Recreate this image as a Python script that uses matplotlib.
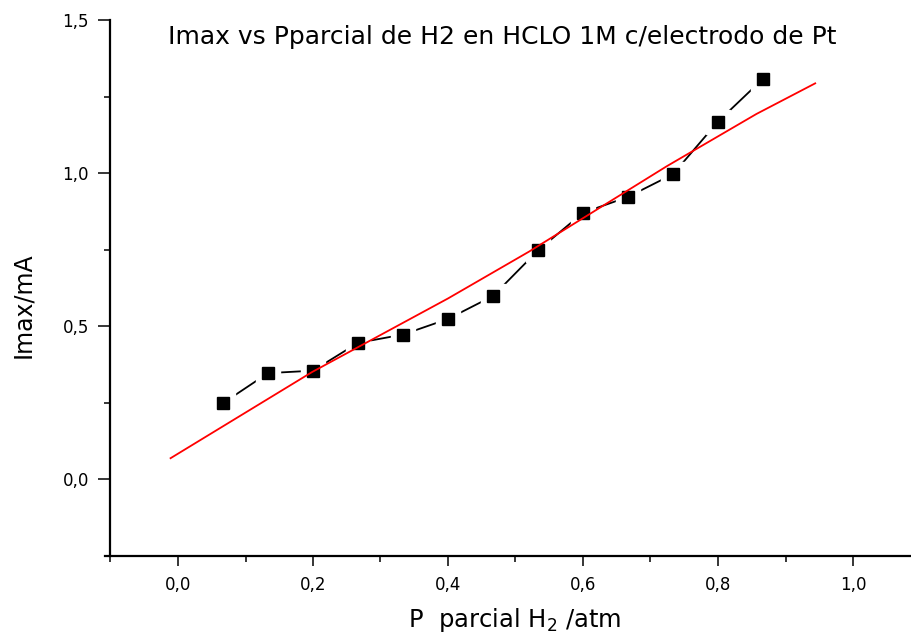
import matplotlib
matplotlib.use('Agg')
import matplotlib.pyplot as plt
from matplotlib.ticker import MultipleLocator, FuncFormatter
from matplotlib import font_manager

# datos medidos: Imax vs presion parcial de H2
p_h2 = [0.0667, 0.1333, 0.2, 0.2667, 0.3333, 0.4, 0.4667,
        0.5333, 0.6, 0.6667, 0.7333, 0.8, 0.8667]
imax = [0.248, 0.346, 0.354, 0.445, 0.472, 0.523, 0.598,
        0.747, 0.870, 0.922, 0.996, 1.168, 1.308]

# recta de ajuste
fit_x = [-0.011, 0.199, 0.400, 0.520, 0.724, 0.857, 0.944]
fit_y = [0.068, 0.350, 0.590, 0.743, 1.022, 1.193, 1.293]

titulo = 'Imax vs Pparcial de H2 en HCLO 1M c/electrodo de Pt'

# fuente angosta para el eje y, si existe
nombres = {f.name for f in font_manager.fontManager.ttflist}
angosta = None
for n in ['Liberation Sans Narrow', 'DejaVu Sans Condensed']:
    if n in nombres:
        angosta = n
        break

fig = plt.figure(figsize=(9.12, 6.4), dpi=100)
ax = fig.add_axes([110.5 / 912, 1 - 555.5 / 640, 810 / 912, 535.5 / 640])

ax.plot(p_h2, imax, color='black', linewidth=1.3, zorder=2)
ax.plot(p_h2, imax, linestyle='none', marker='s', markersize=17,
        color='white', zorder=3)
ax.plot(p_h2, imax, linestyle='none', marker='s', markersize=9,
        color='black', zorder=4)
ax.plot(fit_x, fit_y, color='red', linewidth=1.3, zorder=5)

ax.set_xlim(-0.1, 1.1)
ax.set_ylim(-0.25, 1.5)

for s in ['top', 'right']:
    ax.spines[s].set_visible(False)
for s in ['left', 'bottom']:
    ax.spines[s].set_linewidth(1.6)
ax.spines['bottom'].set_bounds(-0.108, 1.1)

ax.xaxis.set_major_locator(MultipleLocator(0.2))
ax.xaxis.set_minor_locator(MultipleLocator(0.1))
ax.yaxis.set_major_locator(MultipleLocator(0.5))
ax.yaxis.set_minor_locator(MultipleLocator(0.25))
coma = FuncFormatter(lambda v, p: f'{v:.1f}'.replace('.', ','))
ax.xaxis.set_major_formatter(coma)
ax.yaxis.set_major_formatter(coma)

ax.tick_params(axis='y', which='major', length=8.5, width=1.1, pad=7, labelsize=12)
ax.tick_params(axis='y', which='minor', length=4.3, width=1.1)
ax.tick_params(axis='x', which='major', length=7.5, width=1.1, pad=7, labelsize=12)
ax.tick_params(axis='x', which='minor', length=4, width=1.1)

fig.text(502 / 912, 1 - 44 / 640, titulo, ha='center', va='baseline', fontsize=18)
fig.text(515 / 912, 1 - 627 / 640, 'P  parcial H$_2$ /atm', ha='center',
         va='baseline', fontsize=17.5)
if angosta:
    fig.text(23 / 912, 1 - 305 / 640, 'Imax/mA', rotation=90, ha='center',
             va='center', fontsize=21, family=angosta)
else:
    fig.text(23 / 912, 1 - 305 / 640, 'Imax/mA', rotation=90, ha='center',
             va='center', fontsize=17)

fig.savefig('out.png', dpi=100)
